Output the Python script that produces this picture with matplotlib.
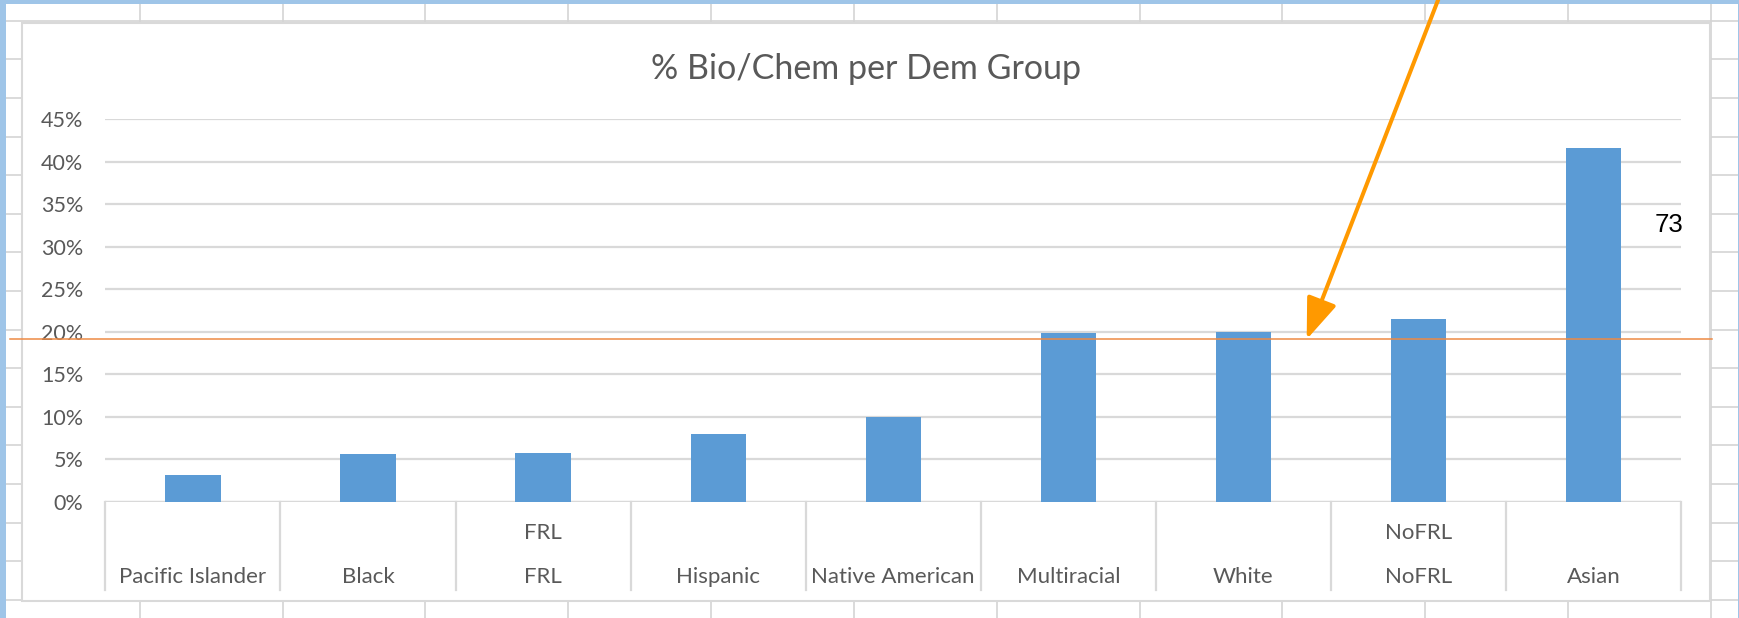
import numpy as np
import matplotlib
matplotlib.use("Agg")
import matplotlib.pyplot as plt
import matplotlib.transforms as mtransforms
from matplotlib.patches import Rectangle

# chart data
categories = ["Pacific Islander", "Black", "FRL", "Hispanic", "Native American",
              "Multiracial", "White", "NoFRL", "Asian"]
upper_labels = ["", "", "FRL", "", "", "", "", "NoFRL", ""]
values = [0.031, 0.056, 0.057, 0.080, 0.100, 0.198, 0.200, 0.215, 0.416]
y_ticks = [0.00, 0.05, 0.10, 0.15, 0.20, 0.25, 0.30, 0.35, 0.40, 0.45]
tick_labels = ["0%", "5%", "10%", "15%", "20%", "25%", "30%", "35%", "40%", "45%"]
title = "% Bio/Chem per Dem Group"
threshold = 0.191
note = "73"

W, H = 1740, 618
BAR = "#5B9BD5"
GRID = "#D9D9D9"
TXT = "#595959"
FONT = "Lato"

fig = plt.figure(figsize=(W / 100, H / 100), dpi=100)

# background: spreadsheet cells, in pixel coordinates
bg = fig.add_axes([0, 0, 1, 1], zorder=0)
bg.set_xlim(0, W)
bg.set_ylim(H, 0)
bg.axis("off")
for k in range(16):
    bg.axhline(20.7 + 38.6 * k, color="#D4D4D4", lw=1.2, zorder=1)
for k in range(12):
    bg.axvline(139.7 + 142.83 * k, color="#D4D4D4", lw=1.2, zorder=1)
# selection border
bg.add_patch(Rectangle((0, 0), W, 3.5, color="#9FC5E8", lw=0, zorder=2))
bg.add_patch(Rectangle((0, 0), 6, H, color="#9FC5E8", lw=0, zorder=2))
bg.add_patch(Rectangle((W - 1.5, 0), 1.5, H, color="#9FC5E8", lw=0, zorder=2))
# chart area
bg.add_patch(Rectangle((21.8, 23), 1710.5 - 21.8, 601 - 23, facecolor="white",
                       edgecolor=GRID, lw=1.5, zorder=3))
bg.text(865.7, 69, title, ha="center", va="center", fontsize=24.5,
        color=TXT, family=FONT, zorder=4)

# plot area
left, right, top, bottom = 105.4, 1681, 119.1, 501.8
ax = fig.add_axes([left / W, 1 - bottom / H, (right - left) / W, (bottom - top) / H],
                  zorder=1)
ax.patch.set_alpha(0)
x = np.arange(len(categories)) + 0.5
ax.bar(x, values, width=0.315, color=BAR, zorder=3)
ax.set_xlim(0, len(categories))
ax.set_ylim(0, 0.45)
ax.set_yticks(y_ticks)
ax.set_yticklabels(tick_labels, fontsize=15.5, color=TXT, family=FONT)
ax.tick_params(axis="y", length=0, pad=16)
ax.set_xticks([])
ax.grid(axis="y", color=GRID, lw=1.6, zorder=0)
for s in ax.spines.values():
    s.set_visible(False)
ax.axhline(0, color=GRID, lw=1.6, zorder=2)

# category axis box with two label rows
cat_tr = mtransforms.blended_transform_factory(ax.transData, bg.transData)
for b in range(len(categories) + 1):
    ax.plot([b, b], [bottom, 590], transform=cat_tr, color=GRID, lw=1.6,
            clip_on=False)
for xi, lab, up in zip(x, categories, upper_labels):
    ax.text(xi, 576.7, lab, transform=cat_tr, ha="center", va="center",
            fontsize=16, color=TXT, family=FONT)
    if up:
        ax.text(xi, 533, up, transform=cat_tr, ha="center", va="center",
                fontsize=16, color=TXT, family=FONT)

# overlay drawn on top of the screenshot
ov = fig.add_axes([0, 0, 1, 1], zorder=5)
ov.set_xlim(0, W)
ov.set_ylim(H, 0)
ov.axis("off")
ov.patch.set_alpha(0)
line_tr = mtransforms.blended_transform_factory(ov.transData, ax.transData)
ov.plot([10, 1712], [threshold, threshold], transform=line_tr,
        color="#EE8A44", lw=1.1)
ov.annotate("", xy=(1306.7, threshold), xycoords=line_tr,
            xytext=(1440, -5), textcoords=ov.transData,
            arrowprops=dict(arrowstyle="-|>,head_length=0.4,head_width=0.15",
                            color="#FF9900", lw=2.9, mutation_scale=63,
                            shrinkA=0, shrinkB=0))
ov.text(1668.6, 225, note, ha="center", va="center", fontsize=18.5,
        color="black", family="Liberation Sans")

fig.savefig("out.png", dpi=100)
